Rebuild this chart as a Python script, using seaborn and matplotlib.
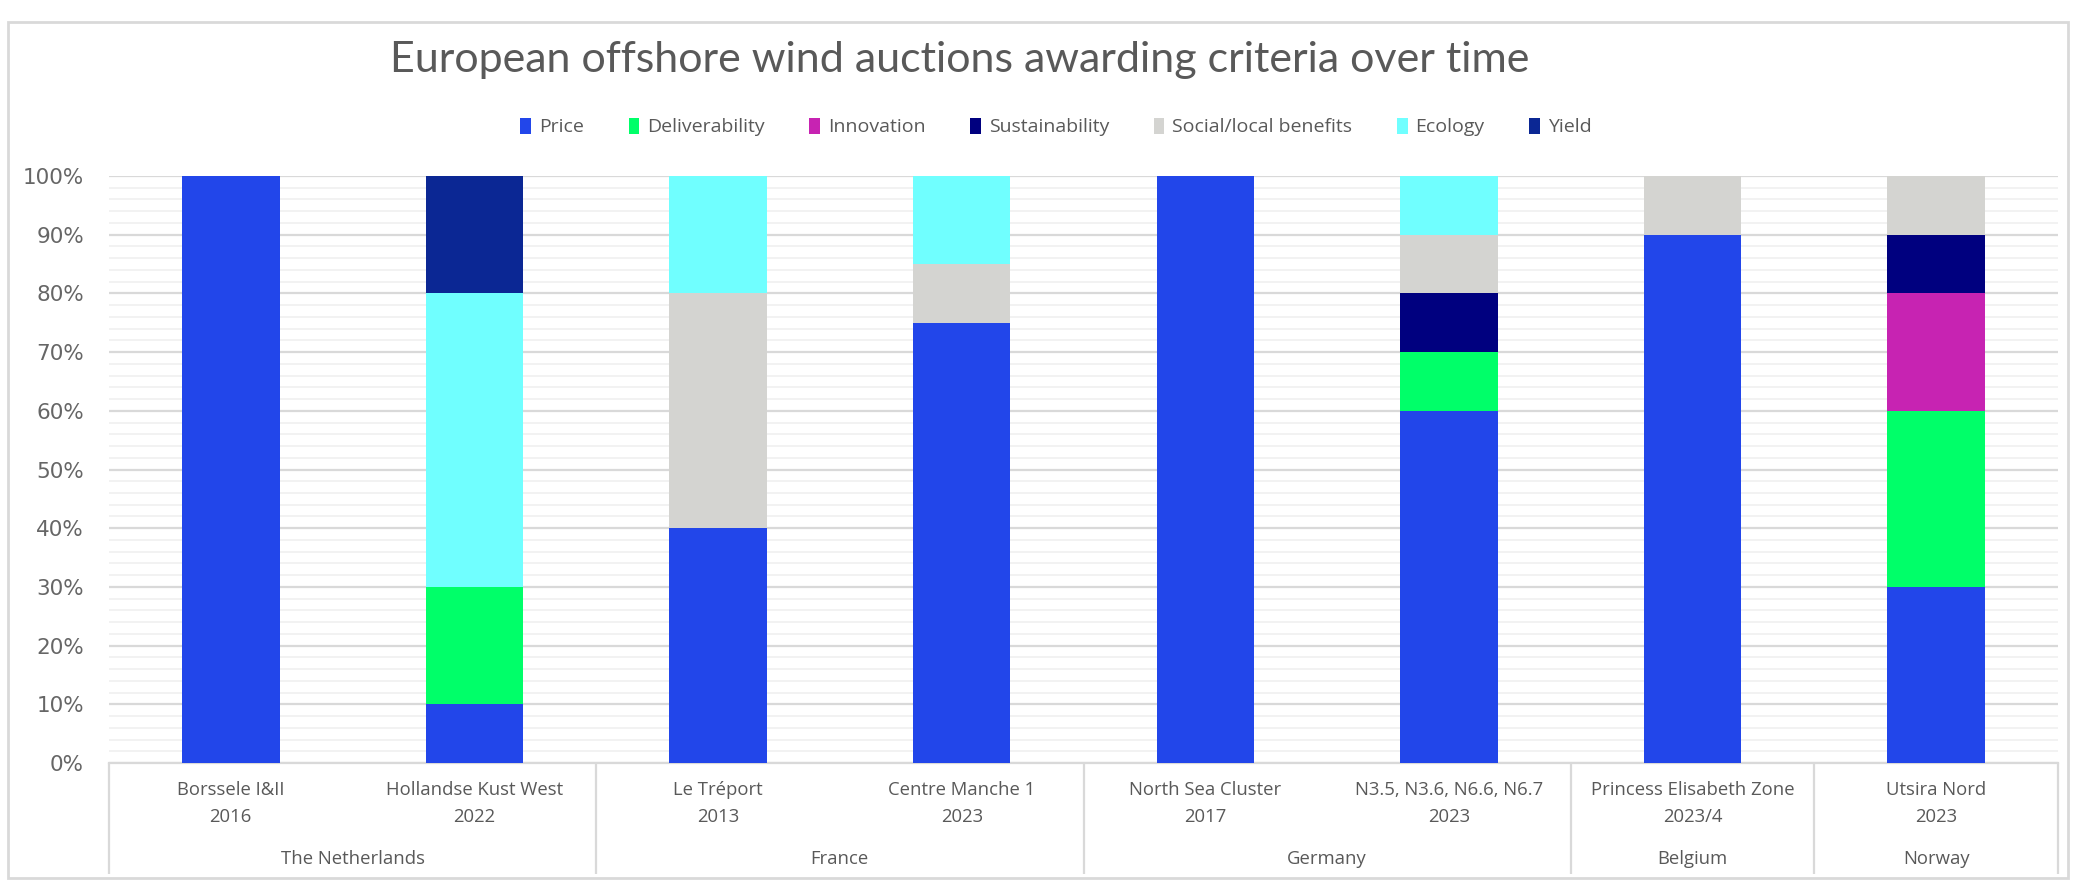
import matplotlib
matplotlib.use("Agg")
import matplotlib.pyplot as plt
import matplotlib.patches as mpatches
import matplotlib.transforms as mtransforms
import numpy as np
import pandas as pd
import seaborn as sns

# Auctions (x categories) and the country each one belongs to
auctions = [
    "Borssele I&II\n2016",
    "Hollandse Kust West\n2022",
    "Le Tréport\n2013",
    "Centre Manche 1\n2023",
    "North Sea Cluster\n2017",
    "N3.5, N3.6, N6.6, N6.7\n2023",
    "Princess Elisabeth Zone\n2023/4",
    "Utsira Nord\n2023",
]
countries = ["The Netherlands", "France", "Germany", "Belgium", "Norway"]
country_sizes = [2, 2, 2, 1, 1]

# Share of each awarding criterion per auction (%)
criteria = ["Price", "Deliverability", "Innovation", "Sustainability",
            "Social/local benefits", "Ecology", "Yield"]
price = [100, 10, 40, 75, 100, 60, 90, 30]
deliverability = [0, 20, 0, 0, 0, 10, 0, 30]
innovation = [0, 0, 0, 0, 0, 0, 0, 20]
sustainability = [0, 0, 0, 0, 0, 10, 0, 10]
social_local = [0, 0, 40, 10, 0, 10, 10, 10]
ecology = [0, 50, 20, 15, 0, 10, 0, 0]
yield_ = [0, 20, 0, 0, 0, 0, 0, 0]

colors = ["#2246EA", "#00FF69", "#C723B2", "#00007F",
          "#D4D4D1", "#70FFFF", "#0B2794"]

series = [price, deliverability, innovation, sustainability,
          social_local, ecology, yield_]

W, H = 2076, 882
fig = plt.figure(figsize=(W / 100, H / 100), dpi=100)
fig.patch.set_facecolor("white")

ax = fig.add_axes([109 / W, 1 - 763 / H, (2058 - 109) / W, (763 - 176) / H])
ax.set_facecolor("white")

text_col = "#595959"
grid_major = "#D9D9D9"
grid_minor = "#F0F0F0"

# Stacked bars: each criterion sits on the running total of the previous ones
bottom = np.zeros(len(auctions))
for name, vals, col in zip(criteria, series, colors):
    df = pd.DataFrame({"auction": auctions, "share": vals})
    sns.barplot(data=df, x="auction", y="share", order=auctions,
                color=col, width=0.4, bottom=bottom, errorbar=None,
                saturation=1, linewidth=0, ax=ax, zorder=3)
    bottom = bottom + np.array(vals, dtype=float)

ax.set_xlim(-0.5, len(auctions) - 0.5)
ax.set_ylim(0, 100)
ax.set_yticks(np.arange(0, 101, 10))
ax.set_yticklabels([f"{v}%" for v in range(0, 101, 10)],
                   fontsize=15.5, color="#666666", family="DejaVu Sans")
ax.set_yticks(np.arange(0, 101, 2), minor=True)
ax.yaxis.grid(True, which="major", color=grid_major, linewidth=1.6, zorder=0)
ax.yaxis.grid(True, which="minor", color=grid_minor, linewidth=1.2, zorder=0)
ax.xaxis.grid(False)
ax.tick_params(axis="y", which="both", length=0, pad=18)
ax.set_axisbelow(True)

for s in ["top", "right", "left"]:
    ax.spines[s].set_visible(False)
ax.spines["bottom"].set_color(grid_major)
ax.spines["bottom"].set_linewidth(1.6)

ax.set_xlabel("")
ax.set_ylabel("")
ax.set_xticks(range(len(auctions)))
ax.set_xticklabels([])
ax.tick_params(axis="x", length=0)

# Multi-level category axis: auction names, country names and separators
trans = mtransforms.blended_transform_factory(ax.transData, ax.transAxes)
for i, lab in enumerate(auctions):
    ax.text(i, -0.069, lab, transform=trans, ha="center", va="center",
            fontsize=13.3, color=text_col, family="Open Sans",
            linespacing=1.6)

edges = [-0.5]
for n in country_sizes:
    edges.append(edges[-1] + n)
for e in edges:
    ax.plot([e, e], [0, -0.189], transform=trans, color=grid_major,
            linewidth=1.6, clip_on=False, solid_capstyle="butt")
for c, a, b in zip(countries, edges[:-1], edges[1:]):
    ax.text((a + b) / 2, -0.163, c, transform=trans, ha="center",
            va="center", fontsize=13.3, color=text_col, family="Open Sans")

# Title and legend
fig.text(960 / W, 1 - 60 / H,
         "European offshore wind auctions awarding criteria over time",
         ha="center", va="center", fontsize=31, color=text_col,
         family="Lato", fontweight="normal")

handles = [mpatches.Patch(facecolor=c, edgecolor="none", label=n)
           for n, c in zip(criteria, colors)]
leg = fig.legend(handles=handles, loc="center", ncol=len(criteria),
                 bbox_to_anchor=(1056 / W, 1 - 127 / H), frameon=False,
                 handlelength=0.55, handleheight=0.9, handletextpad=0.4,
                 columnspacing=2.3, prop={"family": "Open Sans", "size": 14})
for t in leg.get_texts():
    t.set_color(text_col)

# Light frame around the chart area
fig.add_artist(mpatches.Rectangle((8 / W, 1 - 878 / H), 2060 / W, 856 / H,
                                  transform=fig.transFigure, fill=False,
                                  edgecolor="#D9D9D9", linewidth=2))

fig.savefig("out.png", dpi=100, facecolor="white")
